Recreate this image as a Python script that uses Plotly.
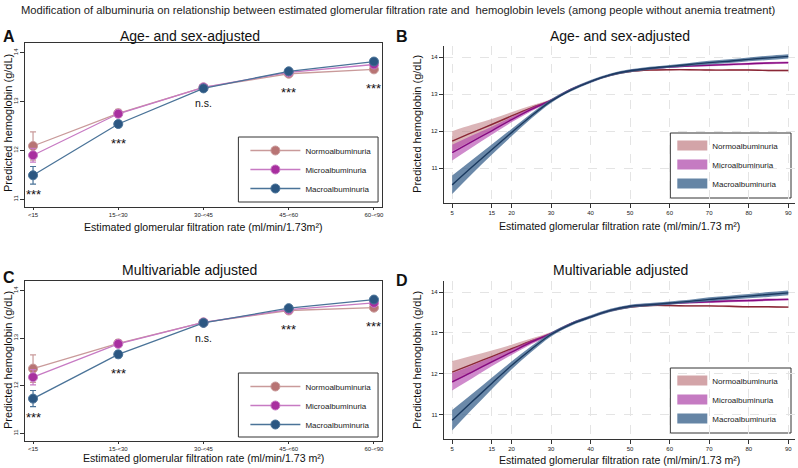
import plotly.graph_objects as go

# ---- data ----
egfr_groups = ["<15", "15-<30", "30-<45", "45-<60", "60-<90"]
sig_labels = ["***", "***", "n.s.", "***", "***"]

# panel A: age- and sex-adjusted, categorical eGFR
a_normo = [12.09, 12.76, 13.29, 13.57, 13.66]
a_micro = [11.90, 12.75, 13.29, 13.60, 13.76]
a_macro = [11.49, 12.54, 13.27, 13.62, 13.82]
a_normo_err = [0.29, 0.08, 0.04, 0.03, 0.03]
a_micro_err = [0.14, 0.06, 0.03, 0.02, 0.03]
a_macro_err = [0.18, 0.07, 0.04, 0.03, 0.04]

# panel C: multivariable adjusted, categorical eGFR
c_normo = [12.36, 12.89, 13.33, 13.58, 13.64]
c_micro = [12.18, 12.88, 13.33, 13.60, 13.74]
c_macro = [11.73, 12.66, 13.32, 13.63, 13.81]
c_normo_err = [0.29, 0.08, 0.04, 0.03, 0.03]
c_micro_err = [0.16, 0.06, 0.03, 0.02, 0.03]
c_macro_err = [0.17, 0.07, 0.04, 0.03, 0.04]

# panels B and D: spline of continuous eGFR
egfr = [5, 10, 15, 20, 25, 30, 35, 40, 45, 50, 55, 60, 65, 70, 75, 80, 85, 90]
b_normo = [11.73, 11.96, 12.18, 12.41, 12.63, 12.83, 13.12, 13.34, 13.51, 13.61,
           13.65, 13.66, 13.66, 13.65, 13.65, 13.65, 13.64, 13.64]
b_micro = [11.42, 11.72, 12.01, 12.31, 12.59, 12.83, 13.12, 13.34, 13.52, 13.63,
           13.69, 13.73, 13.76, 13.78, 13.80, 13.82, 13.84, 13.85]
b_macro = [10.55, 11.03, 11.50, 11.96, 12.41, 12.81, 13.11, 13.34, 13.52, 13.63,
           13.70, 13.75, 13.80, 13.85, 13.89, 13.94, 13.98, 14.02]
d_normo = [12.04, 12.23, 12.42, 12.61, 12.80, 12.98, 13.22, 13.39, 13.54, 13.63,
           13.67, 13.67, 13.66, 13.66, 13.65, 13.64, 13.64, 13.63]
d_micro = [11.80, 12.04, 12.29, 12.53, 12.77, 12.98, 13.22, 13.39, 13.55, 13.65,
           13.69, 13.72, 13.74, 13.76, 13.78, 13.79, 13.81, 13.82]
d_macro = [10.86, 11.31, 11.76, 12.20, 12.60, 12.96, 13.21, 13.39, 13.55, 13.65,
           13.69, 13.73, 13.77, 13.82, 13.86, 13.90, 13.94, 13.98]
# 95% CI half widths along the spline
normo_ci = [0.27, 0.21, 0.15, 0.10, 0.06, 0.04, 0.03, 0.02, 0.02, 0.02,
            0.02, 0.02, 0.02, 0.02, 0.02, 0.02, 0.02, 0.02]
micro_ci = [0.21, 0.16, 0.11, 0.07, 0.05, 0.03, 0.03, 0.02, 0.02, 0.02,
            0.02, 0.02, 0.02, 0.03, 0.03, 0.03, 0.03, 0.03]
macro_ci = [0.25, 0.19, 0.14, 0.10, 0.07, 0.05, 0.04, 0.04, 0.04, 0.04,
            0.04, 0.04, 0.04, 0.05, 0.05, 0.05, 0.06, 0.06]

spline_ticks = [5, 15, 20, 30, 40, 50, 60, 70, 80, 90]

FONT = "Liberation Sans, Arial, sans-serif"
W, H = 798, 468

# colours per group: (line for A/C, marker for A/C, band for B/D, line for B/D)
groups = {
    "Normoalbuminuria": ("#c99a9a", "#b87474", "rgba(190,120,125,0.55)", "#8a2736"),
    "Microalbuminuria": ("#c77ac3", "#a82f9f", "rgba(175,60,170,0.60)", "#860a80"),
    "Macroalbuminuria": ("#4a7398", "#2c5782", "rgba(70,108,148,0.80)", "#1b3a60"),
}
legend_swatch = {
    "Normoalbuminuria": "#d3a4a8",
    "Microalbuminuria": "#c57bc2",
    "Macroalbuminuria": "#6585a5",
}


def px_x(p):
    return p / W


def px_y(p):
    return 1 - p / H


fig = go.Figure()


def add_category_panel(xa, ya, legend, series):
    for (name, (line_c, mark_c, _, _)), (vals, err) in zip(groups.items(), series):
        fig.add_trace(go.Scatter(
            x=egfr_groups, y=vals, mode="lines+markers", name=name,
            xaxis=xa, yaxis=ya, legend=legend,
            line=dict(color=line_c, width=1.3),
            marker=dict(size=9, color=mark_c, line=dict(color=line_c, width=1)),
            error_y=dict(type="data", array=err, color=line_c, thickness=1.2, width=3),
        ))


def add_spline_panel(xa, ya, legend, series):
    for (name, (_, _, band_c, line_c)), (vals, ci) in zip(groups.items(), series):
        lower = [v - c for v, c in zip(vals, ci)]
        upper = [v + c for v, c in zip(vals, ci)]
        fig.add_trace(go.Scatter(
            x=egfr, y=lower, mode="lines", line=dict(width=0, shape="spline"),
            xaxis=xa, yaxis=ya, showlegend=False, hoverinfo="skip",
        ))
        fig.add_trace(go.Scatter(
            x=egfr, y=upper, mode="lines", line=dict(width=0, shape="spline"),
            fill="tonexty", fillcolor=band_c, name=name,
            xaxis=xa, yaxis=ya, showlegend=False,
        ))
        fig.add_trace(go.Scatter(
            x=egfr, y=vals, mode="lines", line=dict(color=line_c, width=1.4, shape="spline"),
            xaxis=xa, yaxis=ya, showlegend=False, name=name,
        ))
        # legend-only swatch
        fig.add_trace(go.Scatter(
            x=[None], y=[None], mode="lines", name=name, xaxis=xa, yaxis=ya,
            legend=legend, line=dict(color=legend_swatch[name], width=13),
        ))


add_category_panel("x", "y", "legend",
                   [(a_normo, a_normo_err), (a_micro, a_micro_err), (a_macro, a_macro_err)])
add_spline_panel("x2", "y2", "legend2",
                 [(b_normo, normo_ci), (b_micro, micro_ci), (b_macro, macro_ci)])
add_category_panel("x3", "y3", "legend3",
                   [(c_normo, c_normo_err), (c_micro, c_micro_err), (c_macro, c_macro_err)])
add_spline_panel("x4", "y4", "legend4",
                 [(d_normo, normo_ci), (d_micro, micro_ci), (d_macro, macro_ci)])

# significance marks under each eGFR category
annotations = []
for xa, ya, series in [("x", "y", (a_normo, a_micro, a_macro)),
                       ("x3", "y3", (c_normo, c_micro, c_macro))]:
    for i, lab in enumerate(sig_labels):
        star = lab.startswith("*")
        annotations.append(dict(
            x=egfr_groups[i], y=min(s[i] for s in series), xref=xa, yref=ya,
            text=lab, showarrow=False, yshift=-19 if star else -15,
            font=dict(size=13 if star else 10.5, color="#111111"),
        ))

# panel letters, titles and axis titles (pixel positions of the reference)
texts = [
    ("A", 9, 37, 16, True, 0), ("B", 403, 37, 16, True, 0),
    ("C", 9, 277, 16, True, 0), ("D", 403, 280, 16, True, 0),
    ("Age- and sex-adjusted", 190, 36, 14, False, 0),
    ("Age- and sex-adjusted", 622, 36, 14, False, 0),
    ("Multivariable adjusted", 190, 270, 14, False, 0),
    ("Multivariable adjusted", 622, 270, 14, False, 0),
    ("Estimated glomerular filtration rate (ml/min/1.73m²)", 204, 227, 10.6, False, 0),
    ("Estimated glomerular filtration rate (ml/min/1.73 m²)", 621, 226, 10.6, False, 0),
    ("Estimated glomerular filtration rate (ml/min/1.73 m²)", 204, 458, 10.6, False, 0),
    ("Estimated glomerular filtration rate (ml/min/1.73 m²)", 621, 460, 10.6, False, 0),
    ("Predicted hemoglobin (g/dL)", 8, 123, 11, False, -90),
    ("Predicted hemoglobin (g/dL)", 418, 124, 11, False, -90),
    ("Predicted hemoglobin (g/dL)", 8, 360, 11, False, -90),
    ("Predicted hemoglobin (g/dL)", 418, 360, 11, False, -90),
]
for txt, x, y, size, bold, ang in texts:
    annotations.append(dict(
        x=px_x(x), y=px_y(y), xref="paper", yref="paper", showarrow=False,
        text=f"<b>{txt}</b>" if bold else txt, textangle=ang,
        font=dict(size=size, color="#111"), xanchor="center", yanchor="middle",
    ))
annotations.append(dict(
    x=px_x(400), y=px_y(10), xref="paper", yref="paper", showarrow=False,
    text="Modification of albuminuria on relationship between estimated glomerular "
         "filtration rate and  hemoglobin levels (among people without anemia treatment)",
    font=dict(size=11.2, color="#222"), xanchor="center", yanchor="middle",
))

# legend frames
shapes = []
for x0, y0, x1, y1 in [(239, 137, 379, 202), (672, 133, 793, 198),
                       (239, 373, 379, 437), (672, 368, 793, 433)]:
    shapes.append(dict(type="rect", xref="paper", yref="paper",
                       x0=px_x(x0), x1=px_x(x1), y0=px_y(y1), y1=px_y(y0),
                       line=dict(color="#333", width=1), fillcolor="white", layer="below"))

cat_x = dict(type="category", range=[-0.095, 4.095], showline=True, linecolor="#333",
             mirror=True, ticks="outside", ticklen=2, tickcolor="#333",
             tickfont=dict(size=6), showgrid=False, zeroline=False)
cat_y = dict(range=[10.84, 14.2], tickvals=[11, 12, 13, 14], showline=True, linecolor="#333",
             mirror=True, ticks="outside", ticklen=4, tickcolor="#333", tickangle=-90,
             tickfont=dict(size=6), showgrid=False, zeroline=False)
spl_x = dict(range=[2.9, 91.7], tickvals=spline_ticks, showline=True, linecolor="#333",
             ticks="outside", ticklen=4, tickcolor="#333", tickfont=dict(size=6),
             showgrid=True, gridcolor="#e4e4e4", griddash="dash", zeroline=False)
spl_y = dict(tickvals=[11, 12, 13, 14], showline=True, linecolor="#333",
             ticks="outside", ticklen=4, tickcolor="#333", tickfont=dict(size=6),
             showgrid=True, gridcolor="#e4e4e4", griddash="dash", zeroline=False)

leg = dict(bgcolor="rgba(0,0,0,0)", borderwidth=0, font=dict(size=8, color="#222"),
           xanchor="left", yanchor="top", tracegroupgap=0, itemwidth=50,
           traceorder="normal")
leg_band = dict(leg, itemwidth=30)

fig.update_layout(
    width=W, height=H, margin=dict(l=0, r=0, t=0, b=0),
    paper_bgcolor="white", plot_bgcolor="white",
    font=dict(family=FONT, color="#222"),
    xaxis=dict(cat_x, domain=[px_x(25), px_x(383)], anchor="y"),
    yaxis=dict(cat_y, domain=[px_y(207), px_y(43)], anchor="x"),
    xaxis2=dict(spl_x, domain=[px_x(445), px_x(797)], anchor="y2"),
    yaxis2=dict(spl_y, range=[10.06, 14.3], domain=[px_y(203), px_y(46)], anchor="x2"),
    xaxis3=dict(cat_x, domain=[px_x(25), px_x(383)], anchor="y3"),
    yaxis3=dict(cat_y, domain=[px_y(441), px_y(281)], anchor="x3"),
    xaxis4=dict(spl_x, domain=[px_x(445), px_x(797)], anchor="y4"),
    yaxis4=dict(spl_y, range=[10.4, 14.27], domain=[px_y(439), px_y(281)], anchor="x4"),
    legend=dict(leg, x=px_x(246), y=px_y(136)),
    legend2=dict(leg_band, x=px_x(674), y=px_y(131)),
    legend3=dict(leg, x=px_x(246), y=px_y(372)),
    legend4=dict(leg_band, x=px_x(674), y=px_y(366)),
    annotations=annotations,
    shapes=shapes,
)

fig.write_html("out.html", config={"displayModeBar": False},
               post_script="document.body.style.margin='0';")
